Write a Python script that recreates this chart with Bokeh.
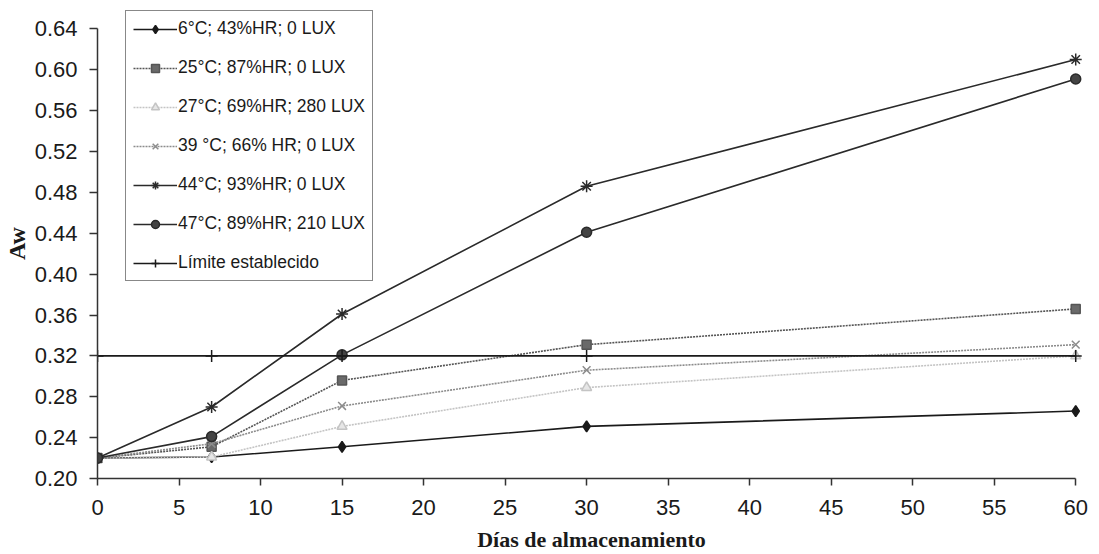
from bokeh.plotting import figure
from bokeh.models import FixedTicker, Legend, LegendItem, NumeralTickFormatter, Range1d
from bokeh.embed import file_html
from bokeh.resources import INLINE

# ---- data ----
dias = [0, 7, 15, 30, 60]
aw_6c = [0.220, 0.221, 0.231, 0.251, 0.266]
aw_25c = [0.220, 0.231, 0.296, 0.331, 0.366]
aw_27c = [0.220, 0.221, 0.251, 0.289, 0.320]
aw_39c = [0.220, 0.234, 0.271, 0.306, 0.331]
aw_44c = [0.220, 0.270, 0.361, 0.486, 0.610]
aw_47c = [0.220, 0.241, 0.321, 0.441, 0.591]
limite = [0.32, 0.32, 0.32, 0.32, 0.32]

series_labels = [
    "6°C; 43%HR; 0 LUX",
    "25°C; 87%HR; 0 LUX",
    "27°C; 69%HR; 280 LUX",
    "39 °C; 66% HR; 0 LUX",
    "44°C; 93%HR; 0 LUX",
    "47°C; 89%HR; 210 LUX",
    "Límite establecido",
]
x_ticks = [0, 5, 10, 15, 20, 25, 30, 35, 40, 45, 50, 55, 60]
y_ticks = [0.20, 0.24, 0.28, 0.32, 0.36, 0.40, 0.44, 0.48, 0.52, 0.56, 0.60, 0.64]

series = [aw_6c, aw_25c, aw_27c, aw_39c, aw_44c, aw_47c, limite]
styles = [
    dict(color="#1a1a1a", dash="solid", marker="diamond", size=11, fill="#1a1a1a"),
    dict(color="#555555", dash="2 1", marker="square", size=9, fill="#6a6a6a"),
    dict(color="#c4c4c4", dash="2 1", marker="triangle", size=10, fill="#e6e6e6"),
    dict(color="#8c8c8c", dash="2 1", marker="x", size=11, fill="#8c8c8c"),
    dict(color="#2a2a2a", dash="solid", marker="asterisk", size=12, fill="#2a2a2a"),
    dict(color="#2a2a2a", dash="solid", marker="circle", size=10, fill="#444444"),
    dict(color="#1a1a1a", dash="solid", marker="cross", size=12, fill="#1a1a1a"),
]

p = figure(width=1099, height=554,
           x_range=Range1d(0, 60.6), y_range=Range1d(0.20, 0.66),
           output_backend="svg", toolbar_location=None,
           min_border_left=96, min_border_right=14,
           min_border_top=8, min_border_bottom=76)
p.outline_line_color = None
p.grid.grid_line_color = None
p.background_fill_color = "white"
p.border_fill_color = "white"

items = []
for lab, ys, st in zip(series_labels, series, styles):
    ln = p.line(dias, ys, line_color=st["color"], line_width=1.6, line_dash=st["dash"])
    mk = p.scatter(dias, ys, marker=st["marker"], size=st["size"],
                   fill_color=st["fill"], line_color=st["color"], line_width=1.5)
    items.append(LegendItem(label=lab, renderers=[ln, mk]))

legend = Legend(items=items, location=(28, 197))
legend.border_line_color = "#111111"
legend.border_line_width = 1.2
legend.background_fill_color = "white"
legend.background_fill_alpha = 1
legend.label_text_font = "Liberation Sans"
legend.label_text_font_size = "17.5px"
legend.label_text_color = "#1a1a1a"
legend.glyph_width = 44
legend.glyph_height = 20
legend.label_height = 20
legend.spacing = 18
legend.padding = 7
legend.label_standoff = 1
legend.margin = 0
p.add_layout(legend)

# x axis
xa = p.xaxis[0]
xa.ticker = FixedTicker(ticks=x_ticks)
xa.bounds = (0, 60)
xa.axis_label = "Días de almacenamiento"
xa.axis_label_text_font = "Liberation Serif"
xa.axis_label_text_font_style = "bold"
xa.axis_label_text_font_size = "22px"
xa.axis_label_text_color = "#1a1a1a"
xa.axis_label_standoff = 9
xa.major_label_text_font = "Liberation Sans"
xa.major_label_text_font_size = "22px"
xa.major_label_text_color = "#1a1a1a"
xa.major_label_standoff = 14
xa.major_tick_out = 7
xa.major_tick_in = 0
xa.minor_tick_line_color = None
xa.axis_line_color = "#333333"
xa.axis_line_width = 1.5
xa.major_tick_line_color = "#333333"
xa.major_tick_line_width = 1.5

# y axis
ya = p.yaxis[0]
ya.ticker = FixedTicker(ticks=y_ticks)
ya.bounds = (0.20, 0.64)
ya.formatter = NumeralTickFormatter(format="0.00")
ya.axis_label = "Aw"
ya.axis_label_text_font = "Liberation Serif"
ya.axis_label_text_font_style = "bold"
ya.axis_label_text_font_size = "24px"
ya.axis_label_text_color = "#1a1a1a"
ya.axis_label_standoff = 2
ya.major_label_text_font = "Liberation Sans"
ya.major_label_text_font_size = "22px"
ya.major_label_text_color = "#1a1a1a"
ya.major_label_standoff = 12
ya.major_tick_out = 8
ya.major_tick_in = 0
ya.minor_tick_line_color = None
ya.axis_line_color = "#333333"
ya.axis_line_width = 1.5
ya.major_tick_line_color = "#333333"
ya.major_tick_line_width = 1.5

open("out.html", "w").write(file_html(p, INLINE))
